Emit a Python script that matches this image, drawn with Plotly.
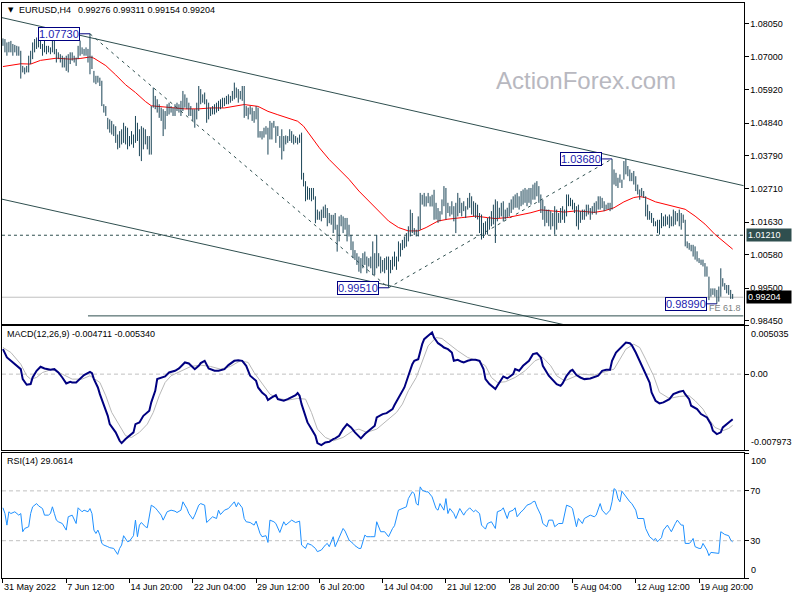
import plotly.graph_objects as go

# ---------------- DATA ----------------
# H4 bars, bar index 1 = 31 May 2022 04:00
bar_high = [
    1.0758, 1.0756, 1.0745, 1.0747, 1.0750, 1.0740, 1.0737, 1.0734, 1.0732, 1.0718,
    1.0669, 1.0664, 1.0669, 1.0702, 1.0718, 1.0745, 1.0756, 1.0761, 1.0767, 1.0756,
    1.0740, 1.0756, 1.0734, 1.0734, 1.0729, 1.0761, 1.0756, 1.0724, 1.0713, 1.0707,
    1.0702, 1.0696, 1.0702, 1.0707, 1.0713, 1.0713, 1.0702, 1.0696, 1.0734, 1.0751,
    1.0729, 1.0724, 1.0729, 1.0724, 1.0773, 1.0702, 1.0653, 1.0637, 1.0637, 1.0631,
    1.0621, 1.0545, 1.0539, 1.0501, 1.0496, 1.0491, 1.0480, 1.0474, 1.0447, 1.0458,
    1.0464, 1.0485, 1.0474, 1.0469, 1.0442, 1.0458, 1.0447, 1.0507, 1.0485, 1.0464,
    1.0474, 1.0469, 1.0464, 1.0442, 1.0442, 1.0539, 1.0599, 1.0572, 1.0561, 1.0545,
    1.0534, 1.0529, 1.0523, 1.0545, 1.0550, 1.0539, 1.0534, 1.0545, 1.0550, 1.0545,
    1.0556, 1.0588, 1.0577, 1.0566, 1.0550, 1.0539, 1.0529, 1.0529, 1.0550, 1.0604,
    1.0594, 1.0577, 1.0583, 1.0561, 1.0550, 1.0534, 1.0539, 1.0545, 1.0550, 1.0556,
    1.0561, 1.0566, 1.0566, 1.0572, 1.0577, 1.0572, 1.0588, 1.0615, 1.0599, 1.0594,
    1.0588, 1.0604, 1.0604, 1.0539, 1.0534, 1.0539, 1.0534, 1.0523, 1.0539, 1.0534,
    1.0458, 1.0458, 1.0469, 1.0474, 1.0469, 1.0491, 1.0485, 1.0491, 1.0474, 1.0474,
    1.0442, 1.0464, 1.0442, 1.0444, 1.0442, 1.0464, 1.0458, 1.0447, 1.0442, 1.0437,
    1.0447, 1.0453, 1.0323, 1.0296, 1.0279, 1.0274, 1.0274, 1.0274, 1.0247, 1.0204,
    1.0198, 1.0204, 1.0214, 1.0220, 1.0209, 1.0193, 1.0187, 1.0187, 1.0193, 1.0155,
    1.0182, 1.0187, 1.0182, 1.0177, 1.0177, 1.0155, 1.0122, 1.0101, 1.0073, 1.0063,
    1.0052, 1.0047, 1.0063, 1.0068, 1.0052, 1.0047, 1.0052, 1.0101, 1.0063, 1.0122,
    1.0063, 1.0052, 1.0041, 1.0047, 1.0052, 1.0052, 1.0041, 1.0052, 1.0068, 1.0052,
    1.0101, 1.0095, 1.0106, 1.0117, 1.0128, 1.0150, 1.0204, 1.0193, 1.0144, 1.0139,
    1.0182, 1.0258, 1.0252, 1.0258, 1.0247, 1.0258, 1.0247, 1.0252, 1.0268, 1.0226,
    1.0209, 1.0199, 1.0237, 1.0280, 1.0274, 1.0226, 1.0215, 1.0231, 1.0215, 1.0226,
    1.0258, 1.0242, 1.0226, 1.0231, 1.0215, 1.0242, 1.0258, 1.0247, 1.0231, 1.0226,
    1.0220, 1.0193, 1.0188, 1.0161, 1.0166, 1.0177, 1.0182, 1.0199, 1.0220, 1.0237,
    1.0231, 1.0210, 1.0226, 1.0231, 1.0204, 1.0210, 1.0226, 1.0237, 1.0247, 1.0253,
    1.0258, 1.0247, 1.0264, 1.0269, 1.0274, 1.0269, 1.0274, 1.0274, 1.0285, 1.0291,
    1.0296, 1.0280, 1.0253, 1.0236, 1.0215, 1.0204, 1.0204, 1.0199, 1.0193, 1.0215,
    1.0204, 1.0193, 1.0209, 1.0215, 1.0204, 1.0253, 1.0253, 1.0242, 1.0236, 1.0226,
    1.0215, 1.0220, 1.0199, 1.0204, 1.0204, 1.0220, 1.0220, 1.0209, 1.0215, 1.0226,
    1.0231, 1.0247, 1.0247, 1.0242, 1.0231, 1.0220, 1.0226, 1.0226, 1.0368, 1.0334,
    1.0323, 1.0307, 1.0318, 1.0301, 1.0361, 1.0368, 1.0345, 1.0334, 1.0323, 1.0329,
    1.0312, 1.0285, 1.0269, 1.0274, 1.0264, 1.0247, 1.0220, 1.0199, 1.0193, 1.0177,
    1.0166, 1.0171, 1.0171, 1.0193, 1.0182, 1.0188, 1.0182, 1.0188, 1.0182, 1.0204,
    1.0199, 1.0193, 1.0204, 1.0193, 1.0188, 1.0171, 1.0101, 1.0096, 1.0090, 1.0090,
    1.0085, 1.0069, 1.0047, 1.0042, 1.0042, 1.0031, 1.0020, 0.9987, 0.9949, 0.9949,
    0.9949, 0.9944, 0.9955, 1.0014, 0.9982, 0.9966, 0.9960, 0.9960, 0.9944, 0.9931,
]
bar_low = [
    1.0734, 1.0713, 1.0702, 1.0713, 1.0713, 1.0702, 1.0713, 1.0702, 1.0702, 1.0628,
    1.0648, 1.0642, 1.0648, 1.0648, 1.0675, 1.0691, 1.0713, 1.0724, 1.0729, 1.0724,
    1.0702, 1.0713, 1.0707, 1.0713, 1.0707, 1.0713, 1.0707, 1.0680, 1.0691, 1.0680,
    1.0664, 1.0664, 1.0653, 1.0648, 1.0675, 1.0686, 1.0680, 1.0669, 1.0691, 1.0702,
    1.0707, 1.0702, 1.0702, 1.0680, 1.0642, 1.0659, 1.0615, 1.0610, 1.0615, 1.0604,
    1.0539, 1.0518, 1.0507, 1.0464, 1.0453, 1.0447, 1.0442, 1.0420, 1.0399, 1.0404,
    1.0415, 1.0420, 1.0415, 1.0399, 1.0409, 1.0415, 1.0404, 1.0420, 1.0426, 1.0377,
    1.0361, 1.0399, 1.0415, 1.0399, 1.0382, 1.0382, 1.0534, 1.0529, 1.0518, 1.0501,
    1.0491, 1.0442, 1.0464, 1.0507, 1.0512, 1.0518, 1.0507, 1.0507, 1.0523, 1.0518,
    1.0507, 1.0523, 1.0534, 1.0529, 1.0507, 1.0507, 1.0491, 1.0469, 1.0496, 1.0523,
    1.0545, 1.0550, 1.0545, 1.0485, 1.0496, 1.0507, 1.0512, 1.0512, 1.0518, 1.0523,
    1.0529, 1.0534, 1.0539, 1.0545, 1.0545, 1.0550, 1.0556, 1.0561, 1.0566, 1.0550,
    1.0561, 1.0556, 1.0501, 1.0507, 1.0496, 1.0512, 1.0491, 1.0485, 1.0496, 1.0437,
    1.0437, 1.0431, 1.0437, 1.0447, 1.0382, 1.0431, 1.0431, 1.0469, 1.0420, 1.0442,
    1.0404, 1.0366, 1.0393, 1.0415, 1.0420, 1.0426, 1.0420, 1.0415, 1.0420, 1.0415,
    1.0420, 1.0301, 1.0279, 1.0231, 1.0236, 1.0236, 1.0231, 1.0236, 1.0160, 1.0171,
    1.0171, 1.0166, 1.0177, 1.0177, 1.0150, 1.0160, 1.0155, 1.0128, 1.0139, 1.0068,
    1.0101, 1.0150, 1.0128, 1.0139, 1.0101, 1.0117, 1.0073, 1.0047, 1.0041, 1.0025,
    1.0003, 0.9998, 1.0014, 1.0025, 0.9998, 1.0020, 1.0014, 0.9992, 0.9992, 1.0014,
    1.0020, 0.9998, 1.0003, 0.9998, 1.0009, 0.9951, 0.9998, 1.0009, 1.0020, 1.0009,
    1.0036, 1.0052, 1.0073, 1.0079, 1.0084, 1.0101, 1.0117, 1.0128, 1.0122, 1.0117,
    1.0117, 1.0139, 1.0220, 1.0214, 1.0214, 1.0225, 1.0214, 1.0214, 1.0171, 1.0172,
    1.0161, 1.0166, 1.0188, 1.0215, 1.0172, 1.0193, 1.0182, 1.0188, 1.0166, 1.0128,
    1.0182, 1.0193, 1.0182, 1.0199, 1.0177, 1.0204, 1.0210, 1.0188, 1.0182, 1.0177,
    1.0172, 1.0128, 1.0107, 1.0112, 1.0123, 1.0123, 1.0139, 1.0150, 1.0156, 1.0096,
    1.0166, 1.0177, 1.0182, 1.0166, 1.0172, 1.0177, 1.0182, 1.0193, 1.0204, 1.0210,
    1.0210, 1.0204, 1.0215, 1.0220, 1.0226, 1.0215, 1.0226, 1.0220, 1.0236, 1.0236,
    1.0247, 1.0226, 1.0193, 1.0171, 1.0150, 1.0161, 1.0150, 1.0139, 1.0150, 1.0123,
    1.0139, 1.0161, 1.0161, 1.0171, 1.0161, 1.0182, 1.0215, 1.0215, 1.0204, 1.0193,
    1.0150, 1.0139, 1.0161, 1.0171, 1.0171, 1.0182, 1.0188, 1.0171, 1.0188, 1.0193,
    1.0188, 1.0204, 1.0204, 1.0209, 1.0199, 1.0204, 1.0204, 1.0199, 1.0204, 1.0285,
    1.0280, 1.0274, 1.0291, 1.0274, 1.0301, 1.0318, 1.0312, 1.0296, 1.0296, 1.0285,
    1.0264, 1.0253, 1.0236, 1.0247, 1.0242, 1.0182, 1.0171, 1.0171, 1.0161, 1.0150,
    1.0150, 1.0128, 1.0123, 1.0144, 1.0150, 1.0150, 1.0155, 1.0144, 1.0150, 1.0150,
    1.0155, 1.0166, 1.0150, 1.0139, 1.0161, 1.0085, 1.0079, 1.0074, 1.0069, 1.0052,
    1.0042, 1.0036, 1.0031, 1.0025, 1.0020, 0.9987, 0.9987, 0.9911, 0.9922, 0.9928,
    0.9922, 0.9899, 0.9906, 0.9922, 0.9955, 0.9944, 0.9933, 0.9928, 0.9915, 0.9915,
]
bar_index = list(range(1, len(bar_high) + 1))

# red moving average
ma_bar = [1, 10, 15, 20, 28, 35, 40, 45, 47, 50, 53, 58, 63, 68, 73, 76, 80, 86, 93, 100,
          106, 113, 120, 123, 130, 135, 140, 145, 150, 153, 156, 161, 166, 171, 176, 181, 186, 191, 196, 201,
          206, 211, 215, 221, 226, 233, 240, 246, 250, 256, 263, 268, 273, 278, 285, 291, 300, 305, 310, 315,
          320, 323, 326, 331, 336, 341, 346, 351, 356, 361, 366, 370]
ma_value = [1.0667, 1.0676, 1.0675, 1.0687, 1.0694, 1.0691, 1.0693, 1.0698, 1.0694, 1.0683,
            1.0670, 1.0640, 1.0608, 1.0583, 1.0554, 1.0540, 1.0538, 1.0533, 1.0530, 1.0530,
            1.0533, 1.0533, 1.0540, 1.0544, 1.0538, 1.0522, 1.0511, 1.0501, 1.0490, 1.0474,
            1.0447, 1.0404, 1.0366, 1.0334, 1.0302, 1.0264, 1.0232, 1.0200, 1.0167, 1.0146,
            1.0135, 1.0135, 1.0146, 1.0167, 1.0173, 1.0178, 1.0183, 1.0178, 1.0175, 1.0178,
            1.0186, 1.0194, 1.0203, 1.0200, 1.0196, 1.0200, 1.0195, 1.0200, 1.0210, 1.0229,
            1.0243, 1.0246, 1.0243, 1.0229, 1.0221, 1.0214, 1.0205, 1.0183, 1.0157, 1.0124,
            1.0098, 1.0076]

# MACD(12,26,9) main line
macd_bar = [1, 3, 5, 8, 10, 11, 13, 15, 16, 18, 20, 22, 25, 27, 29, 31, 33, 35, 36, 38,
            40, 42, 45, 46, 47, 49, 50, 52, 54, 55, 58, 60, 61, 63, 65, 67, 68, 70, 72, 75,
            76, 78, 79, 81, 83, 85, 88, 90, 93, 95, 96, 98, 100, 101, 103, 104, 105, 108, 110, 113,
            115, 118, 120, 122, 124, 126, 129, 130, 132, 134, 135, 137, 139, 140, 143, 145, 147, 149, 150, 151,
            152, 154, 155, 157, 159, 160, 162, 164, 166, 168, 169, 171, 173, 175, 177, 179, 180, 182, 184, 186,
            189, 190, 193, 195, 198, 199, 201, 204, 206, 208, 209, 211, 213, 214, 216, 218, 219, 221, 223, 224,
            226, 228, 229, 231, 233, 234, 236, 238, 240, 242, 244, 245, 247, 250, 251, 253, 254, 256, 259, 260,
            262, 264, 267, 269, 271, 273, 274, 277, 279, 281, 283, 284, 286, 288, 289, 291, 293, 295, 298, 300,
            302, 304, 306, 308, 309, 311, 313, 314, 316, 318, 319, 321, 323, 324, 326, 328, 329, 331, 333, 335,
            338, 340, 343, 345, 346, 348, 349, 352, 354, 357, 359, 360, 362, 364, 365, 367, 369, 370]
macd_value = [0.00261, 0.00174, 0.00139, 0.00087, 0.00052, -0.00052, -0.00111, -0.00104, -0.00035, 0.00035,
              0.00077, 0.00059, 0.00045, 0.00052, 0.00017, -0.00035, -0.00097, -0.00080, -0.00087, -0.00087,
              -0.00052, -0.00010, 0.00024, 0.00010, -0.00052, -0.00139, -0.00209, -0.00313, -0.00435, -0.00522,
              -0.00608, -0.00696, -0.00720, -0.00678, -0.00643, -0.00608, -0.00522, -0.00504, -0.00435, -0.00383,
              -0.00295, -0.00174, -0.00052, -0.00035, -0.00024, 0.00017, 0.00035, 0.00059, 0.00122, 0.00111,
              0.00094, 0.00052, 0.00087, 0.00115, 0.00139, 0.00104, 0.00059, 0.00035, 0.00035, 0.00052,
              0.00094, 0.00139, 0.00146, 0.00139, 0.00087, -0.00017, -0.00070, -0.00139, -0.00191, -0.00226,
              -0.00270, -0.00243, -0.00219, -0.00261, -0.00278, -0.00261, -0.00243, -0.00219, -0.00198, -0.00226,
              -0.00313, -0.00435, -0.00504, -0.00574, -0.00643, -0.00720, -0.00741, -0.00713, -0.00706, -0.00678,
              -0.00671, -0.00643, -0.00574, -0.00522, -0.00556, -0.00608, -0.00626, -0.00671, -0.00626, -0.00591,
              -0.00539, -0.00452, -0.00417, -0.00407, -0.00365, -0.00323, -0.00243, -0.00139, -0.00017, 0.00104,
              0.00139, 0.00156, 0.00313, 0.00365, 0.00400, 0.00435, 0.00382, 0.00323, 0.00295, 0.00278,
              0.00261, 0.00226, 0.00139, 0.00149, 0.00129, 0.00122, 0.00139, 0.00149, 0.00149, 0.00139,
              0.00052, -0.00052, -0.00104, -0.00156, -0.00122, -0.00052, -0.00024, -0.00045, 0.00000, 0.00052,
              0.00035, 0.00087, 0.00139, 0.00209, 0.00219, 0.00174, 0.00087, -0.00017, -0.00059, -0.00104,
              -0.00122, -0.00097, -0.00017, 0.00035, 0.00045, -0.00010, -0.00035, -0.00052, -0.00045, -0.00035,
              -0.00017, 0.00035, 0.00045, 0.00045, 0.00139, 0.00226, 0.00268, 0.00295, 0.00330, 0.00323,
              0.00302, 0.00226, 0.00139, 0.00094, 0.00017, -0.00087, -0.00191, -0.00278, -0.00306, -0.00295,
              -0.00261, -0.00209, -0.00184, -0.00174, -0.00209, -0.00261, -0.00330, -0.00365, -0.00417, -0.00452,
              -0.00522, -0.00591, -0.00626, -0.00608, -0.00556, -0.00522, -0.00487, -0.004711]

# MACD signal line
signal_bar = [1, 5, 10, 13, 15, 18, 21, 26, 31, 36, 41, 45, 50, 53, 56, 60, 63, 66, 70, 74,
              77, 80, 83, 86, 91, 96, 101, 106, 111, 116, 121, 125, 128, 133, 136, 140, 145, 150, 154, 157,
              160, 164, 168, 173, 178, 181, 185, 190, 195, 200, 203, 206, 210, 213, 216, 220, 223, 226, 231, 236,
              241, 245, 248, 251, 255, 260, 265, 270, 274, 278, 281, 285, 288, 293, 300, 306, 310, 313, 316, 320,
              323, 326, 330, 333, 338, 343, 348, 351, 355, 358, 361, 365, 368, 370]
signal_value = [0.00278, 0.00226, 0.00104, -0.00017, -0.00052, -0.00035, 0.00017, 0.00052, 0.00000, -0.00052,
                -0.00052, -0.00017, -0.00087, -0.00226, -0.00400, -0.00539, -0.00643, -0.00661, -0.00608, -0.00522,
                -0.00400, -0.00226, -0.00087, -0.00017, 0.00035, 0.00080, 0.00094, 0.00080, 0.00052, 0.00080,
                0.00139, 0.00122, 0.00017, -0.00122, -0.00209, -0.00254, -0.00271, -0.00254, -0.00261, -0.00400,
                -0.00574, -0.00661, -0.00696, -0.00661, -0.00591, -0.00574, -0.00608, -0.00574, -0.00487, -0.00400,
                -0.00313, -0.00174, -0.00035, 0.00122, 0.00295, 0.00382, 0.00372, 0.00323, 0.00243, 0.00174,
                0.00139, 0.00087, -0.00035, -0.00087, -0.00080, -0.00035, 0.00035, 0.00139, 0.00174, 0.00087,
                -0.00017, -0.00070, -0.00045, 0.00000, -0.00010, 0.00024, 0.00052, 0.00156, 0.00261, 0.00313,
                0.00278, 0.00156, -0.00017, -0.00191, -0.00254, -0.00233, -0.00226, -0.00278, -0.00365, -0.00469,
                -0.00556, -0.00591, -0.00567, -0.00534]

# RSI(14)
rsi_bar = [1, 2, 3, 4, 5, 7, 9, 10, 11, 12, 14, 15, 16, 18, 19, 21, 22, 24, 25, 26,
           27, 28, 29, 31, 33, 34, 36, 37, 38, 39, 41, 42, 44, 45, 46, 47, 48, 49, 50, 51,
           52, 54, 55, 57, 59, 60, 61, 62, 64, 65, 67, 68, 69, 70, 71, 73, 74, 76, 78, 79,
           81, 82, 84, 86, 88, 89, 91, 92, 94, 95, 97, 98, 100, 101, 103, 104, 106, 107, 109, 110,
           111, 113, 115, 117, 118, 119, 120, 122, 123, 124, 126, 128, 129, 131, 132, 134, 135, 136, 138, 139,
           141, 143, 144, 147, 149, 151, 152, 154, 155, 157, 159, 160, 162, 164, 165, 166, 168, 169, 171, 173,
           174, 176, 178, 179, 181, 182, 184, 185, 187, 189, 190, 192, 194, 196, 198, 199, 201, 203, 205, 206,
           208, 209, 210, 211, 212, 213, 215, 216, 218, 220, 221, 222, 224, 225, 226, 227, 229, 230, 232, 234,
           235, 237, 239, 240, 242, 243, 245, 246, 248, 249, 250, 251, 253, 254, 256, 257, 259, 260, 261, 263,
           264, 266, 268, 269, 270, 271, 273, 274, 276, 277, 279, 280, 282, 284, 285, 286, 288, 289, 291, 292,
           294, 295, 298, 300, 301, 303, 304, 306, 308, 309, 310, 311, 312, 313, 314, 316, 318, 319, 321, 322,
           324, 325, 326, 328, 330, 331, 332, 334, 335, 337, 338, 339, 341, 342, 344, 345, 346, 348, 349, 350,
           351, 353, 354, 355, 357, 358, 359, 362, 363, 364, 366, 368, 369, 370]
rsi_value = [56.4, 51.8, 42.5, 53.2, 51.8, 53.2, 50.5, 51.8, 37.2, 39.8, 41.2, 51.8, 57.2, 59.8, 58.0, 55.8, 50.5, 50.5, 51.8, 57.2,
             51.8, 46.5, 45.2, 43.8, 38.5, 49.2, 50.5, 46.5, 43.8, 56.4, 53.2, 54.5, 53.2, 55.8, 51.8, 38.5, 35.8, 38.5, 34.5, 27.8,
             26.5, 25.2, 24.4, 23.8, 19.0, 23.8, 26.5, 34.0, 29.2, 29.7, 34.0, 46.5, 33.2, 42.5, 44.6, 41.2, 40.4, 58.5, 56.4, 54.5,
             50.5, 46.5, 53.2, 54.5, 53.7, 52.6, 54.5, 61.2, 55.8, 51.8, 47.3, 50.5, 58.5, 59.8, 58.5, 44.6, 47.8, 49.2, 47.8, 54.5,
             51.0, 54.5, 55.8, 59.0, 61.2, 57.2, 60.6, 56.4, 47.8, 45.2, 44.6, 42.5, 45.7, 35.8, 33.2, 34.0, 28.6, 46.5, 45.2, 43.8,
             36.6, 45.2, 42.5, 46.5, 44.6, 45.7, 26.5, 23.8, 27.8, 26.5, 23.8, 21.2, 22.5, 26.5, 27.8, 25.2, 33.2, 25.2, 33.2, 39.8,
             37.7, 30.5, 27.8, 26.0, 23.8, 23.8, 34.5, 33.2, 33.2, 33.2, 45.2, 37.2, 37.2, 33.2, 39.8, 42.0, 54.5, 55.8, 57.2, 63.8,
             69.2, 67.8, 59.8, 58.5, 73.2, 70.5, 69.2, 69.2, 65.2, 55.8, 54.5, 59.8, 54.5, 63.8, 51.8, 55.8, 51.8, 47.8, 55.8, 50.5,
             53.2, 56.4, 53.2, 54.5, 51.8, 42.5, 39.3, 43.8, 45.2, 42.5, 39.8, 53.2, 54.5, 56.4, 47.8, 53.2, 54.5, 56.4, 49.2, 53.2,
             54.5, 58.5, 59.8, 61.2, 61.7, 57.2, 50.5, 43.8, 41.2, 46.5, 46.5, 41.2, 43.8, 43.8, 50.5, 58.5, 57.2, 55.8, 41.2, 47.8,
             43.8, 47.8, 50.5, 49.2, 50.5, 59.8, 54.5, 51.0, 54.5, 61.2, 71.8, 70.5, 63.8, 61.2, 69.7, 65.2, 61.2, 59.8, 54.5, 47.8,
             47.8, 47.8, 39.8, 33.2, 30.5, 31.8, 29.2, 32.4, 38.5, 42.5, 39.8, 37.2, 43.8, 46.5, 42.5, 42.5, 27.8, 27.8, 29.2, 31.8,
             25.2, 23.8, 23.8, 27.8, 22.5, 18.0, 20.6, 19.8, 19.8, 37.2, 35.0, 34.0, 30.5, 29.06]

# annotated swing points and drawing objects
swing_bar = [45, 196, 309, 362]
swing_price = [1.0773, 0.9951, 1.0368, 0.9899]
upper_channel_bar = [0, 380]
upper_channel_price = [1.0826, 1.0275]
lower_channel_bar = [0, 380]
lower_channel_price = [1.02385, 0.96953]
support_level = 1.0121
current_price = 0.99204
fe_ratio = 0.618
fe_level = swing_price[2] - fe_ratio * (swing_price[0] - swing_price[1])

price_ticks = [1.0805, 1.0700, 1.0592, 1.0484, 1.0379, 1.0271, 1.0163, 1.0058, 0.9950, 0.9845]
time_tick_bar = [1, 33, 65, 97, 129, 161, 193, 225, 257, 289, 321, 353]
time_tick_label = ["31 May 2022", "7 Jun 12:00", "14 Jun 20:00", "22 Jun 04:00", "29 Jun 12:00",
                   "6 Jul 20:00", "14 Jul 04:00", "21 Jul 12:00", "28 Jul 20:00", "5 Aug 04:00",
                   "12 Aug 12:00", "19 Aug 20:00"]
ohlc_title = ["0.99276", "0.99311", "0.99154", "0.99204"]
macd_title = "MACD(12,26,9) -0.004711 -0.005340"
rsi_title = "RSI(14) 29.0614"

# ---------------- STYLE / LAYOUT ----------------
W, H = 800, 600
FONT = "Liberation Sans, Arial, sans-serif"
BAR_COLOR = "#1b4557"
OBJ_COLOR = "#2f4f4f"
X_RANGE = [0.5, 375.5]
X_DOMAIN = [2 / W, 752 / W]


def py(p):
    return 1 - p / H


fig = go.Figure()

# current price line
fig.add_trace(go.Scatter(x=[X_RANGE[0], X_RANGE[1]], y=[current_price, current_price], mode="lines",
                         line=dict(color="#c0c0c0", width=1), hoverinfo="skip"))
# support dashed line
fig.add_trace(go.Scatter(x=[X_RANGE[0], X_RANGE[1]], y=[support_level, support_level], mode="lines",
                         line=dict(color=OBJ_COLOR, width=1, dash="3px,3px"), hoverinfo="skip"))
# channel lines
fig.add_trace(go.Scatter(x=upper_channel_bar, y=upper_channel_price, mode="lines",
                         line=dict(color=OBJ_COLOR, width=1), hoverinfo="skip"))
fig.add_trace(go.Scatter(x=lower_channel_bar, y=lower_channel_price, mode="lines",
                         line=dict(color=OBJ_COLOR, width=1), hoverinfo="skip"))
# fibo expansion dashed legs
fig.add_trace(go.Scatter(x=swing_bar[:3], y=swing_price[:3], mode="lines",
                         line=dict(color=OBJ_COLOR, width=1, dash="3px,4px"), hoverinfo="skip"))
# FE 61.8 level
fig.add_trace(go.Scatter(x=[swing_bar[0] - 1, X_RANGE[1]], y=[fe_level, fe_level], mode="lines",
                         line=dict(color=OBJ_COLOR, width=1), hoverinfo="skip"))
# moving average
fig.add_trace(go.Scatter(x=ma_bar, y=ma_value, mode="lines", line=dict(color="#ff0000", width=1),
                         hoverinfo="skip"))
# price bars (high-low)
bx, by = [], []
for i, h, l in zip(bar_index, bar_high, bar_low):
    bx += [i, i, None]
    by += [l, h, None]
fig.add_trace(go.Scatter(x=bx, y=by, mode="lines", line=dict(color=BAR_COLOR, width=1), hoverinfo="skip"))
# swing label connectors
for b, p in zip(swing_bar, swing_price):
    fig.add_trace(go.Scatter(x=[b - 5, b], y=[p, p], mode="lines", line=dict(color="#000080", width=1),
                             hoverinfo="skip"))

# MACD panel
fig.add_trace(go.Scatter(x=[X_RANGE[0], X_RANGE[1]], y=[0, 0], mode="lines", xaxis="x2", yaxis="y2",
                         line=dict(color="#c0c0c0", width=1, dash="4px,3px"), hoverinfo="skip"))
fig.add_trace(go.Scatter(x=signal_bar, y=signal_value, mode="lines", xaxis="x2", yaxis="y2",
                         line=dict(color="#b8b8b8", width=1), hoverinfo="skip"))
fig.add_trace(go.Scatter(x=macd_bar, y=macd_value, mode="lines", xaxis="x2", yaxis="y2",
                         line=dict(color="#000080", width=2), hoverinfo="skip"))

# RSI panel
for lvl in (30, 70):
    fig.add_trace(go.Scatter(x=[X_RANGE[0], X_RANGE[1]], y=[lvl, lvl], mode="lines", xaxis="x3", yaxis="y3",
                             line=dict(color="#c0c0c0", width=1, dash="4px,3px"), hoverinfo="skip"))
fig.add_trace(go.Scatter(x=rsi_bar, y=rsi_value, mode="lines", xaxis="x3", yaxis="y3",
                         line=dict(color="#1e90ff", width=1), hoverinfo="skip"))

axis_box = dict(showline=True, mirror=True, linecolor="black", linewidth=1, showgrid=False, zeroline=False)
tickfont = dict(family=FONT, size=9, color="black")

fig.update_layout(
    width=W, height=H, margin=dict(l=0, r=0, t=0, b=0),
    paper_bgcolor="white", plot_bgcolor="white", showlegend=False,
    xaxis=dict(domain=X_DOMAIN, range=X_RANGE, anchor="y", showticklabels=False, ticks="", **axis_box),
    xaxis2=dict(domain=X_DOMAIN, range=X_RANGE, anchor="y2", showticklabels=False, ticks="", **axis_box),
    xaxis3=dict(domain=X_DOMAIN, range=X_RANGE, anchor="y3", tickvals=time_tick_bar, ticktext=time_tick_label,
                ticks="outside", ticklen=4, tickcolor="black", ticklabelposition="outside right",
                tickfont=tickfont, **axis_box),
    yaxis=dict(domain=[py(325), py(3)], range=[0.98340, 1.08727], anchor="x", side="right",
               tickvals=price_ticks, ticktext=[f"{v:.5f}" for v in price_ticks],
               ticks="outside", ticklen=4, tickcolor="black", tickfont=tickfont, **axis_box),
    yaxis2=dict(domain=[py(452), py(327)], range=[-0.007973, 0.005035], anchor="x2", side="right",
                tickvals=[0.005035, 0, -0.007973], ticktext=["", "0.00", ""],
                ticks="outside", ticklen=4, tickcolor="black", tickfont=tickfont, **axis_box),
    yaxis3=dict(domain=[py(580), py(455)], range=[0, 100], anchor="x3", side="right",
                tickvals=[0, 30, 70, 100], ticktext=["", "30", "70", ""],
                ticks="outside", ticklen=4, tickcolor="black", tickfont=tickfont, **axis_box),
)

ann = []
# title
ann.append(dict(xref="paper", yref="paper", x=6 / W, y=py(10), xanchor="left", yanchor="middle",
                text="▼", font=dict(family="DejaVu Sans", size=7, color="black"), showarrow=False))
ann.append(dict(xref="paper", yref="paper", x=17 / W, y=py(10), xanchor="left", yanchor="middle",
                text="EURUSD,H4", font=tickfont, showarrow=False))
ann.append(dict(xref="paper", yref="paper", x=77 / W, y=py(10), xanchor="left", yanchor="middle",
                text=" ".join(ohlc_title), font=tickfont, showarrow=False))
ann.append(dict(xref="paper", yref="paper", x=5 / W, y=py(335), xanchor="left", yanchor="middle",
                text=macd_title, font=tickfont, showarrow=False))
ann.append(dict(xref="paper", yref="paper", x=5 / W, y=py(463), xanchor="left", yanchor="middle",
                text=rsi_title, font=tickfont, showarrow=False))
# watermark
ann.append(dict(xref="paper", yref="paper", x=593 / W, y=py(81), xanchor="center", yanchor="middle",
                text="ActionForex.com", font=dict(family=FONT, size=24, color="#b8b8c0"), showarrow=False))
# swing labels
for b, p in zip(swing_bar, swing_price):
    ann.append(dict(xref="x", yref="y", x=b - 5, y=p, xanchor="right", yanchor="middle",
                    text=f"{p:.5f}", font=dict(family=FONT, size=11, color="#1c1cb0"),
                    bgcolor="white", bordercolor="#000080", borderwidth=1, borderpad=0, showarrow=False))
# FE label
ann.append(dict(xref="paper", yref="y", x=751 / W, y=fe_level, xanchor="right", yanchor="bottom",
                text="FE 61.8", font=dict(family=FONT, size=9, color="#7a8080"), showarrow=False, yshift=1))
# highlighted axis labels
ann.append(dict(xref="paper", yref="y", x=754 / W, y=support_level, xanchor="left", yanchor="middle",
                text=f"{support_level:.5f}", font=dict(family=FONT, size=9, color="white"),
                bgcolor=OBJ_COLOR, width=42, align="left", borderpad=1, showarrow=False))
ann.append(dict(xref="paper", yref="y", x=754 / W, y=current_price, xanchor="left", yanchor="middle",
                text=f"{current_price:.5f}", font=dict(family=FONT, size=9, color="white"),
                bgcolor="black", width=42, align="left", borderpad=1, showarrow=False))
# edge labels for indicator panels
ann.append(dict(xref="paper", yref="y2", x=758 / W, y=0.005035, xanchor="left", yanchor="top",
                text="0.005035", font=tickfont, showarrow=False, yshift=-1))
ann.append(dict(xref="paper", yref="y2", x=758 / W, y=-0.007973, xanchor="left", yanchor="bottom",
                text="-0.007973", font=tickfont, showarrow=False, yshift=1))
ann.append(dict(xref="paper", yref="y3", x=758 / W, y=100, xanchor="left", yanchor="top",
                text="100", font=tickfont, showarrow=False, yshift=-1))
ann.append(dict(xref="paper", yref="y3", x=758 / W, y=0, xanchor="left", yanchor="bottom",
                text="0", font=tickfont, showarrow=False, yshift=1))

fig.update_layout(annotations=ann)
fig.write_html("out.html", config={"displayModeBar": False},
               post_script="document.body.style.margin='0px';")
